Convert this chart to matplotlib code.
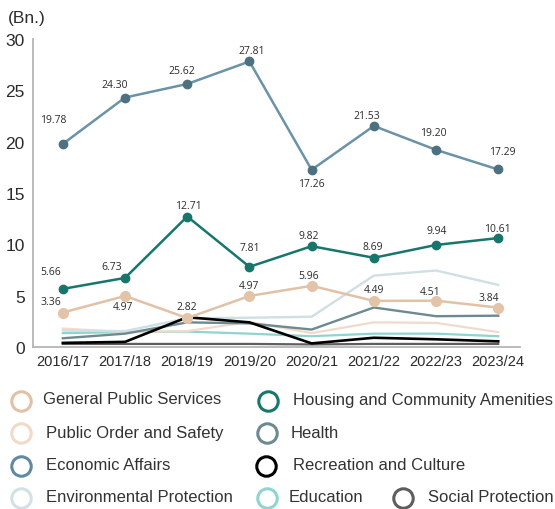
import matplotlib.pyplot as plt

# years on the x axis
years = ['2016/17', '2017/18', '2018/19', '2019/20', '2020/21', '2021/22', '2022/23', '2023/24']

# labelled series
economic = [19.78, 24.30, 25.62, 27.81, 17.26, 21.53, 19.20, 17.29]
housing = [5.66, 6.73, 12.71, 7.81, 9.82, 8.69, 9.94, 10.61]
general = [3.36, 4.97, 2.82, 4.97, 5.96, 4.49, 4.51, 3.84]

# unlabelled series
environment = [1.6, 1.55, 2.8, 2.85, 2.95, 6.95, 7.45, 6.05]
health = [0.85, 1.3, 2.4, 2.3, 1.7, 3.85, 3.0, 3.05]
public_order = [1.8, 1.45, 1.55, 2.45, 1.35, 2.4, 2.35, 1.45]
education = [1.35, 1.45, 1.5, 1.3, 1.05, 1.3, 1.3, 1.05]
recreation = [0.4, 0.5, 2.9, 2.4, 0.35, 0.9, 0.75, 0.55]
social = [0.3, 0.3, 0.3, 0.3, 0.25, 0.3, 0.3, 0.3]

fig = plt.figure(figsize=(5.55, 5.1), dpi=100)
ax = fig.add_axes([33 / 555, 1 - 348 / 510, (520 - 33) / 555, (348 - 40) / 510])

x = list(range(len(years)))
txt = '#2b2b2b'

# background lines first
ax.plot(x, social, color='#5e5e5e', lw=1.6, zorder=2)
ax.plot(x, education, color='#8fd4d0', lw=1.6, zorder=2)
ax.plot(x, public_order, color='#f2dacb', lw=1.6, zorder=2)
ax.plot(x, health, color='#6d8a91', lw=1.7, zorder=3)
ax.plot(x, environment, color='#cfdfe3', lw=1.7, zorder=2)
ax.plot(x, recreation, color='black', lw=1.9, zorder=3)

# highlighted lines with markers
ax.plot(x, general, color='#e2c2a6', lw=1.8, marker='o', ms=7,
        mfc='#e3c4a8', mec='#e3c4a8', zorder=4)
ax.plot(x, housing, color='#17776d', lw=1.8, marker='o', ms=6,
        mfc='#17766c', mec='#17766c', zorder=5)
ax.plot(x, economic, color='#6a93a8', lw=1.8, marker='o', ms=6,
        mfc='#4d7180', mec='#4d7180', zorder=5)

# label offsets in pixels (dx, dy up)
econ_off = [(-10, 24), (-10, 13), (-5, 13), (2, 11), (0, -14), (-7, 10), (-3, 17), (4, 18)]
house_off = [(-12, 17), (-13, 11), (1, 11), (0, 19), (-3, 11), (-1, 11), (1, 14), (-1, 10)]
gen_off = [(-12, 11), (-2, -11), (0, 12), (0, 10), (-3, 10), (0, 11), (-6, 9), (-9, 10)]

for vals, offs in [(economic, econ_off), (housing, house_off), (general, gen_off)]:
    for i, v in enumerate(vals):
        dx, dy = offs[i]
        ax.annotate(f'{v:.2f}', (i, v), xytext=(dx * 0.72, dy * 0.72),
                    textcoords='offset points', ha='center', va='center',
                    fontsize=7.5, family='Open Sans', color=txt, zorder=6)

ax.set_xlim(-0.48, 7.35)
ax.set_ylim(0, 30)
ax.set_yticks([0, 5, 10, 15, 20, 25, 30])
ax.set_xticks(x)
ax.set_xticklabels(years, fontsize=10.5, family='Liberation Sans', color=txt)
for lab in ax.get_yticklabels():
    lab.set_fontsize(12.5)
    lab.set_family('Liberation Sans')
    lab.set_color(txt)
ax.tick_params(length=0)
ax.tick_params(axis='y', pad=6)
ax.tick_params(axis='x', pad=5)
for s in ['top', 'right']:
    ax.spines[s].set_visible(False)
for s in ['left', 'bottom']:
    ax.spines[s].set_color('#b5b5b5')
    ax.spines[s].set_linewidth(1.3)

fig.text(8 / 555, 1 - 18 / 510, '(Bn.)', fontsize=12.5, family='Liberation Sans',
         color=txt, va='center', ha='left')

# legend drawn in pixel space
leg_names = ['General Public Services', 'Public Order and Safety', 'Economic Affairs',
             'Environmental Protection', 'Housing and Community Amenities', 'Health',
             'Recreation and Culture', 'Education', 'Social Protection']
leg_colors = ['#e2c2a6', '#f2dacb', '#5f8aa1', '#d3e1e4', '#17776d', '#6d8a91',
              'black', '#8fd4d0', '#5e5e5e']
leg_circle = [(21, 402), (21, 434), (21, 467), (21, 499), (268, 402), (267, 434),
              (266, 467), (267, 499), (403, 499)]
leg_text = [(43, 400), (46, 434), (46, 466), (46, 498), (293, 401), (291, 434),
            (293, 466), (289, 498), (428, 498)]

lg = fig.add_axes([0, 0, 1, 1])
lg.set_xlim(0, 555)
lg.set_ylim(510, 0)
lg.axis('off')
for name, c, (cx, cy), (tx, ty) in zip(leg_names, leg_colors, leg_circle, leg_text):
    lg.plot(cx, cy, 'o', ms=14, mfc='none', mec=c, mew=2.2, clip_on=False)
    lg.text(tx, ty, name, fontsize=12, family='Liberation Sans', color='#333333',
            va='center', ha='left')

fig.savefig('out.png', dpi=100)
